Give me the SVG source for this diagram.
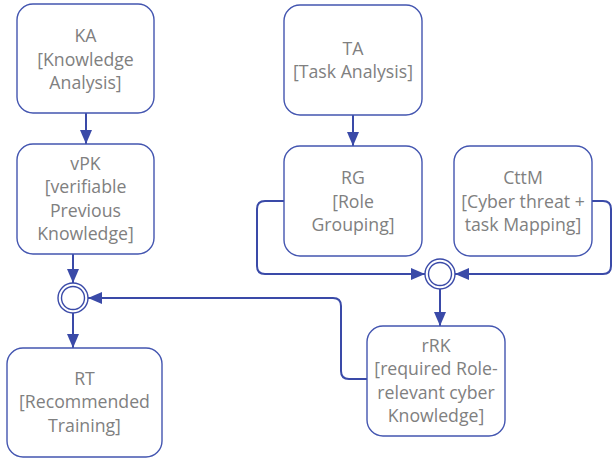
<svg xmlns="http://www.w3.org/2000/svg" width="612" height="459" viewBox="0 0 612 459">
<defs>
<marker id="arr" markerUnits="userSpaceOnUse" markerWidth="14" markerHeight="12" refX="14" refY="6" orient="auto">
<path d="M0,0 L14,6 L0,12 z" fill="#3a4aa8"/>
</marker>
<style>
.box{fill:#fff;stroke:#4355b0;stroke-width:1.4}
.t{font-family:"Open Sans","Liberation Sans",Arial,sans-serif;font-size:17.7px;fill:#808080;text-anchor:middle}
.c{fill:none;stroke:#3a4aa8;stroke-width:2;marker-end:url(#arr)}
.j{fill:#fff;stroke:#3a4aa8;stroke-width:1.4}
</style>
</defs>
<rect width="612" height="459" fill="#fff"/>
<g id="connectors">
<path class="c" d="M86 113 V144"/>
<path class="c" d="M353 115 V146"/>
<path class="c" d="M73 254 V283"/>
<path class="c" d="M73 313 V348"/>
<path class="c" d="M284 201 H265 Q257 201 257 209 V266 Q257 274 265 274 H425"/>
<path class="c" d="M592 201 H603 Q611 201 611 209 V266 Q611 274 603 274 H455"/>
<path class="c" d="M440 289 V326"/>
<path class="c" d="M367 379 H349 Q341 379 341 371 V306 Q341 298 333 298 H88"/>
</g>
<g id="J1"><circle class="j" cx="73" cy="298" r="15"/><circle class="j" cx="73" cy="298" r="11.5"/></g>
<g id="J2"><circle class="j" cx="440" cy="274" r="15"/><circle class="j" cx="440" cy="274" r="11.5"/></g>
<g id="KA"><rect class="box" x="17" y="4" width="137" height="109" rx="16"/>
<text class="t" x="85.5"><tspan x="85.5" y="42">KA</tspan><tspan x="85.5" y="65.5">[Knowledge</tspan><tspan x="85.5" y="89">Analysis]</tspan></text></g>
<g id="vPK"><rect class="box" x="17" y="144" width="137" height="110" rx="16"/>
<text class="t"><tspan x="85.5" y="169.5">vPK</tspan><tspan x="85.5" y="193">[verifiable</tspan><tspan x="85.5" y="216.5">Previous</tspan><tspan x="85.5" y="240">Knowledge]</tspan></text></g>
<g id="RT"><rect class="box" x="7" y="348" width="155" height="109" rx="16"/>
<text class="t"><tspan x="84.5" y="384.5">RT</tspan><tspan x="84.5" y="408">[Recommended</tspan><tspan x="84.5" y="431.5">Training]</tspan></text></g>
<g id="TA"><rect class="box" x="284" y="5" width="138" height="110" rx="16"/>
<text class="t"><tspan x="353" y="54.5">TA</tspan><tspan x="353" y="78">[Task Analysis]</tspan></text></g>
<g id="RG"><rect class="box" x="284" y="146" width="138" height="110" rx="16"/>
<text class="t"><tspan x="353" y="184">RG</tspan><tspan x="353" y="207.5">[Role</tspan><tspan x="353" y="231">Grouping]</tspan></text></g>
<g id="CttM"><rect class="box" x="454" y="146" width="138" height="110" rx="16"/>
<text class="t"><tspan x="523" y="184">CttM</tspan><tspan x="523" y="207.5">[Cyber threat +</tspan><tspan x="523" y="231">task Mapping]</tspan></text></g>
<g id="rRK"><rect class="box" x="367" y="326" width="138" height="110" rx="16"/>
<text class="t"><tspan x="436" y="351.5">rRK</tspan><tspan x="436" y="375">[required Role-</tspan><tspan x="436" y="398.5">relevant cyber</tspan><tspan x="436" y="422">Knowledge]</tspan></text></g>
</svg>
